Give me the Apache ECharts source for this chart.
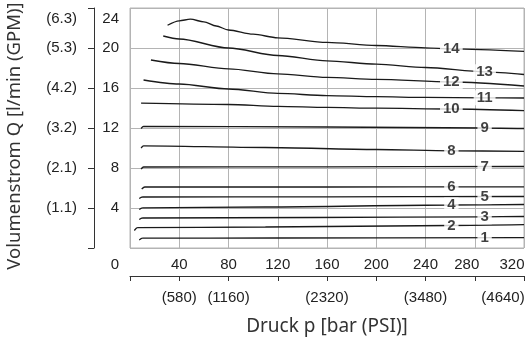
<!DOCTYPE html>
<html>
<head>
<meta charset="utf-8">
<script src="https://cdn.jsdelivr.net/npm/echarts@6/dist/echarts.min.js"></script>
<style>
    html, body { margin: 0; padding: 0; background: #fff; }
    #chart { width: 527px; height: 343px; }
</style>
</head>
<body>
<div id="chart"></div>
<script>
// curves: [pressure bar, flow l/min]
var line1 = [[7.5, 0.8], [10, 0.98], [120, 1.0], [320, 1.03]];
var line2 = [[3.5, 1.75], [6, 2.03], [110, 2.1], [260, 2.25], [320, 2.33]];
var line3 = [[7.5, 2.85], [10, 3.0], [150, 3.05], [288, 3.12], [320, 3.15]];
var line4 = [[7.5, 3.85], [10, 4.02], [110, 4.1], [261, 4.3], [320, 4.35]];
var line5 = [[7.5, 4.95], [10, 5.1], [160, 5.12], [320, 5.15]];
var line6 = [[9.5, 5.9], [12, 6.1], [160, 6.1], [320, 6.12]];
var line7 = [[9, 7.9], [11, 8.1], [160, 8.12], [320, 8.15]];
var line8 = [[9, 10.0], [11, 10.22], [110, 10.05], [200, 9.85], [261, 9.72], [320, 9.66]];
var line9 = [[9, 11.95], [11, 12.17], [160, 12.1], [288, 12.0], [320, 11.95]];
var line10 = [[9, 14.48], [80, 14.35], [120, 14.16], [160, 14.06], [200, 13.98], [261, 13.9], [320, 13.73]];
var line11 = [[11, 16.8], [40, 16.4], [80, 15.9], [120, 15.46], [160, 15.24], [200, 15.13], [240, 15.06], [288, 15.02], [320, 15.0]];
var line12 = [[17, 18.8], [40, 18.45], [80, 17.92], [120, 17.42], [160, 17.07], [200, 16.86], [261, 16.6], [320, 16.2]];
var line13 = [[27, 21.2], [40, 20.9], [80, 20.0], [120, 19.25], [160, 18.72], [200, 18.38], [240, 18.05], [288, 17.62], [320, 17.35]];
var line14 = [[30.5, 22.27], [40, 22.72], [49, 22.88], [60, 22.62], [70, 22.2], [80, 21.8], [100, 21.38], [120, 21.02], [160, 20.56], [200, 20.25], [240, 20.02], [261, 19.92], [320, 19.66]];

var curves = [line1, line2, line3, line4, line5, line6, line7, line8, line9, line10, line11, line12, line13, line14];

// inline curve numbers
var labelNames = ['1', '2', '3', '4', '5', '6', '7', '8', '9', '10', '11', '12', '13', '14'];
var labelP = [288, 261, 288, 261, 288, 261, 288, 261, 288, 261, 288, 261, 288, 261];
var labelQ = [1.02, 2.25, 3.12, 4.3, 5.14, 6.11, 8.14, 9.72, 12.0, 13.9, 15.02, 16.6, 17.62, 19.92];

// secondary scales
var psiAt = [40, 80, 160, 240, 320];
var psiLabels = ['(580)', '(1160)', '(2320)', '(3480)', '(4640)'];
var gpmAt = [4, 8, 12, 16, 20, 24];
var gpmLabels = ['(1.1)', '(2.1)', '(3.2)', '(4.2)', '(5.3)', '(6.3)'];

var myChart = echarts.init(document.getElementById('chart'));

var tickFont = 'Liberation Sans';
var gridColor = '#b4b4b4';
var axisColor = '#333';

var series = curves.map(function (c, i) {
    return {
        name: 'c' + (i + 1),
        type: 'line',
        data: c,
        smooth: 0.3,
        smoothMonotone: 'x',
        symbol: 'none',
        silent: true,
        lineStyle: { color: '#1a1a1a', width: 1.3 },
        z: 2
    };
});

series.push({
    type: 'scatter',
    symbolSize: 0,
    silent: true,
    z: 5,
    data: labelNames.map(function (n, i) {
        return [labelP[i], labelQ[i], n];
    }),
    label: {
        show: true,
        position: 'inside',
        formatter: function (p) { return p.value[2]; },
        fontFamily: 'Liberation Sans',
        fontWeight: 'bold',
        fontSize: 15,
        color: '#111',
        backgroundColor: '#fff',
        padding: [0, 3]
    }
});

var option = {
    animation: false,
    textStyle: { fontFamily: tickFont },
    grid: {
        left: 130, right: 3, top: 8, bottom: 95,
        containLabel: false,
        outerBoundsMode: 'none',
        show: true, borderColor: gridColor, borderWidth: 1
    },
    xAxis: [
        {
            type: 'value',
            min: 0, max: 320, interval: 40,
            position: 'bottom',
            axisLine: { show: false },
            axisTick: { show: false },
            splitLine: { show: true, lineStyle: { color: gridColor, width: 1 } },
            axisLabel: {
                showMinLabel: true, showMaxLabel: true,
                margin: 9,
                fontFamily: tickFont,
                fontSize: 15,
                color: '#222',
                formatter: function (v) {
                    if (v === 0) return '{l|0}';
                    if (v === 280) return '{m|280}';
                    if (v === 320) return '{r|320}';
                    return '{n|' + v + '}';
                },
                rich: {
                    n: { fontFamily: tickFont, fontSize: 15 },
                    l: { fontFamily: tickFont, fontSize: 15, padding: [0, 30, 0, 0] },
                    m: { fontFamily: tickFont, fontSize: 15, padding: [0, 16, 0, 0] },
                    r: { fontFamily: tickFont, fontSize: 15, padding: [0, 24, 0, 0] }
                }
            }
        },
        {
            type: 'value',
            min: 0, max: 320, interval: 40,
            position: 'bottom',
            offset: 28,
            axisLine: { show: true, onZero: false, lineStyle: { color: axisColor, width: 1 } },
            axisTick: { show: true, length: 5, lineStyle: { color: axisColor } },
            splitLine: { show: false },
            axisLabel: {
                showMinLabel: true, showMaxLabel: true,
                margin: 14,
                fontFamily: tickFont,
                fontSize: 15,
                color: '#222',
                formatter: function (v) {
                    var k = psiAt.indexOf(v);
                    if (k < 0) return '';
                    if (v === 320) return '{r|' + psiLabels[k] + '}';
                    return psiLabels[k];
                },
                rich: { r: { fontFamily: tickFont, fontSize: 15, padding: [0, 42, 0, 0] } }
            },
            name: 'Druck p [bar (PSI)]',
            nameLocation: 'middle',
            nameGap: 41,
            nameTextStyle: { fontFamily: 'Noto Sans', fontSize: 19, color: '#333' }
        }
    ],
    yAxis: [
        {
            type: 'value',
            min: 0, max: 24, interval: 4,
            position: 'left',
            axisLine: { show: false },
            axisTick: { show: false },
            splitLine: { show: true, lineStyle: { color: gridColor, width: 1 } },
            axisLabel: {
                margin: 11,
                fontFamily: tickFont,
                fontSize: 15,
                color: '#222',
                padding: [4, 0, 0, 0],
                formatter: function (v) {
                    return (v === 0 || v === 24) ? '' : String(v);
                }
            }
        },
        {
            type: 'value',
            min: 0, max: 24, interval: 4,
            position: 'left',
            offset: 36,
            axisLine: { show: true, onZero: false, lineStyle: { color: axisColor, width: 1 } },
            axisTick: { show: true, length: 6, lineStyle: { color: axisColor } },
            splitLine: { show: false },
            axisLabel: {
                margin: 17,
                fontFamily: tickFont,
                fontSize: 15,
                color: '#222',
                padding: [4, 0, 0, 0],
                formatter: function (v) {
                    var k = gpmAt.indexOf(v);
                    return (k < 0 || v === 24) ? '' : gpmLabels[k];
                }
            },
            name: 'Volumenstrom Q [l/min (GPM)]',
            nameLocation: 'middle',
            nameGap: 70,
            nameTextStyle: { fontFamily: 'Noto Sans', fontSize: 18.5, color: '#333', padding: [0, 16, 0, 0] }
        },
        {
            // top label of the bar scale, set below its tick
            type: 'value',
            min: 0, max: 24, interval: 24,
            position: 'left',
            axisLine: { show: false },
            axisTick: { show: false },
            splitLine: { show: false },
            axisLabel: {
                showMaxLabel: true,
                margin: 11,
                verticalAlign: 'top',
                fontFamily: tickFont,
                fontSize: 15,
                color: '#222',
                padding: [3, 0, 0, 0],
                formatter: function (v) { return v === 24 ? '24' : ''; }
            }
        },
        {
            // top label of the GPM scale
            type: 'value',
            min: 0, max: 24, interval: 24,
            position: 'left',
            offset: 36,
            axisLine: { show: false },
            axisTick: { show: false },
            splitLine: { show: false },
            axisLabel: {
                showMaxLabel: true,
                margin: 17,
                verticalAlign: 'top',
                fontFamily: tickFont,
                fontSize: 15,
                color: '#222',
                padding: [3, 0, 0, 0],
                formatter: function (v) {
                    return v === 24 ? gpmLabels[gpmAt.indexOf(24)] : '';
                }
            }
        }
    ],
    series: series
};

myChart.setOption(option);
</script>
</body>
</html>
